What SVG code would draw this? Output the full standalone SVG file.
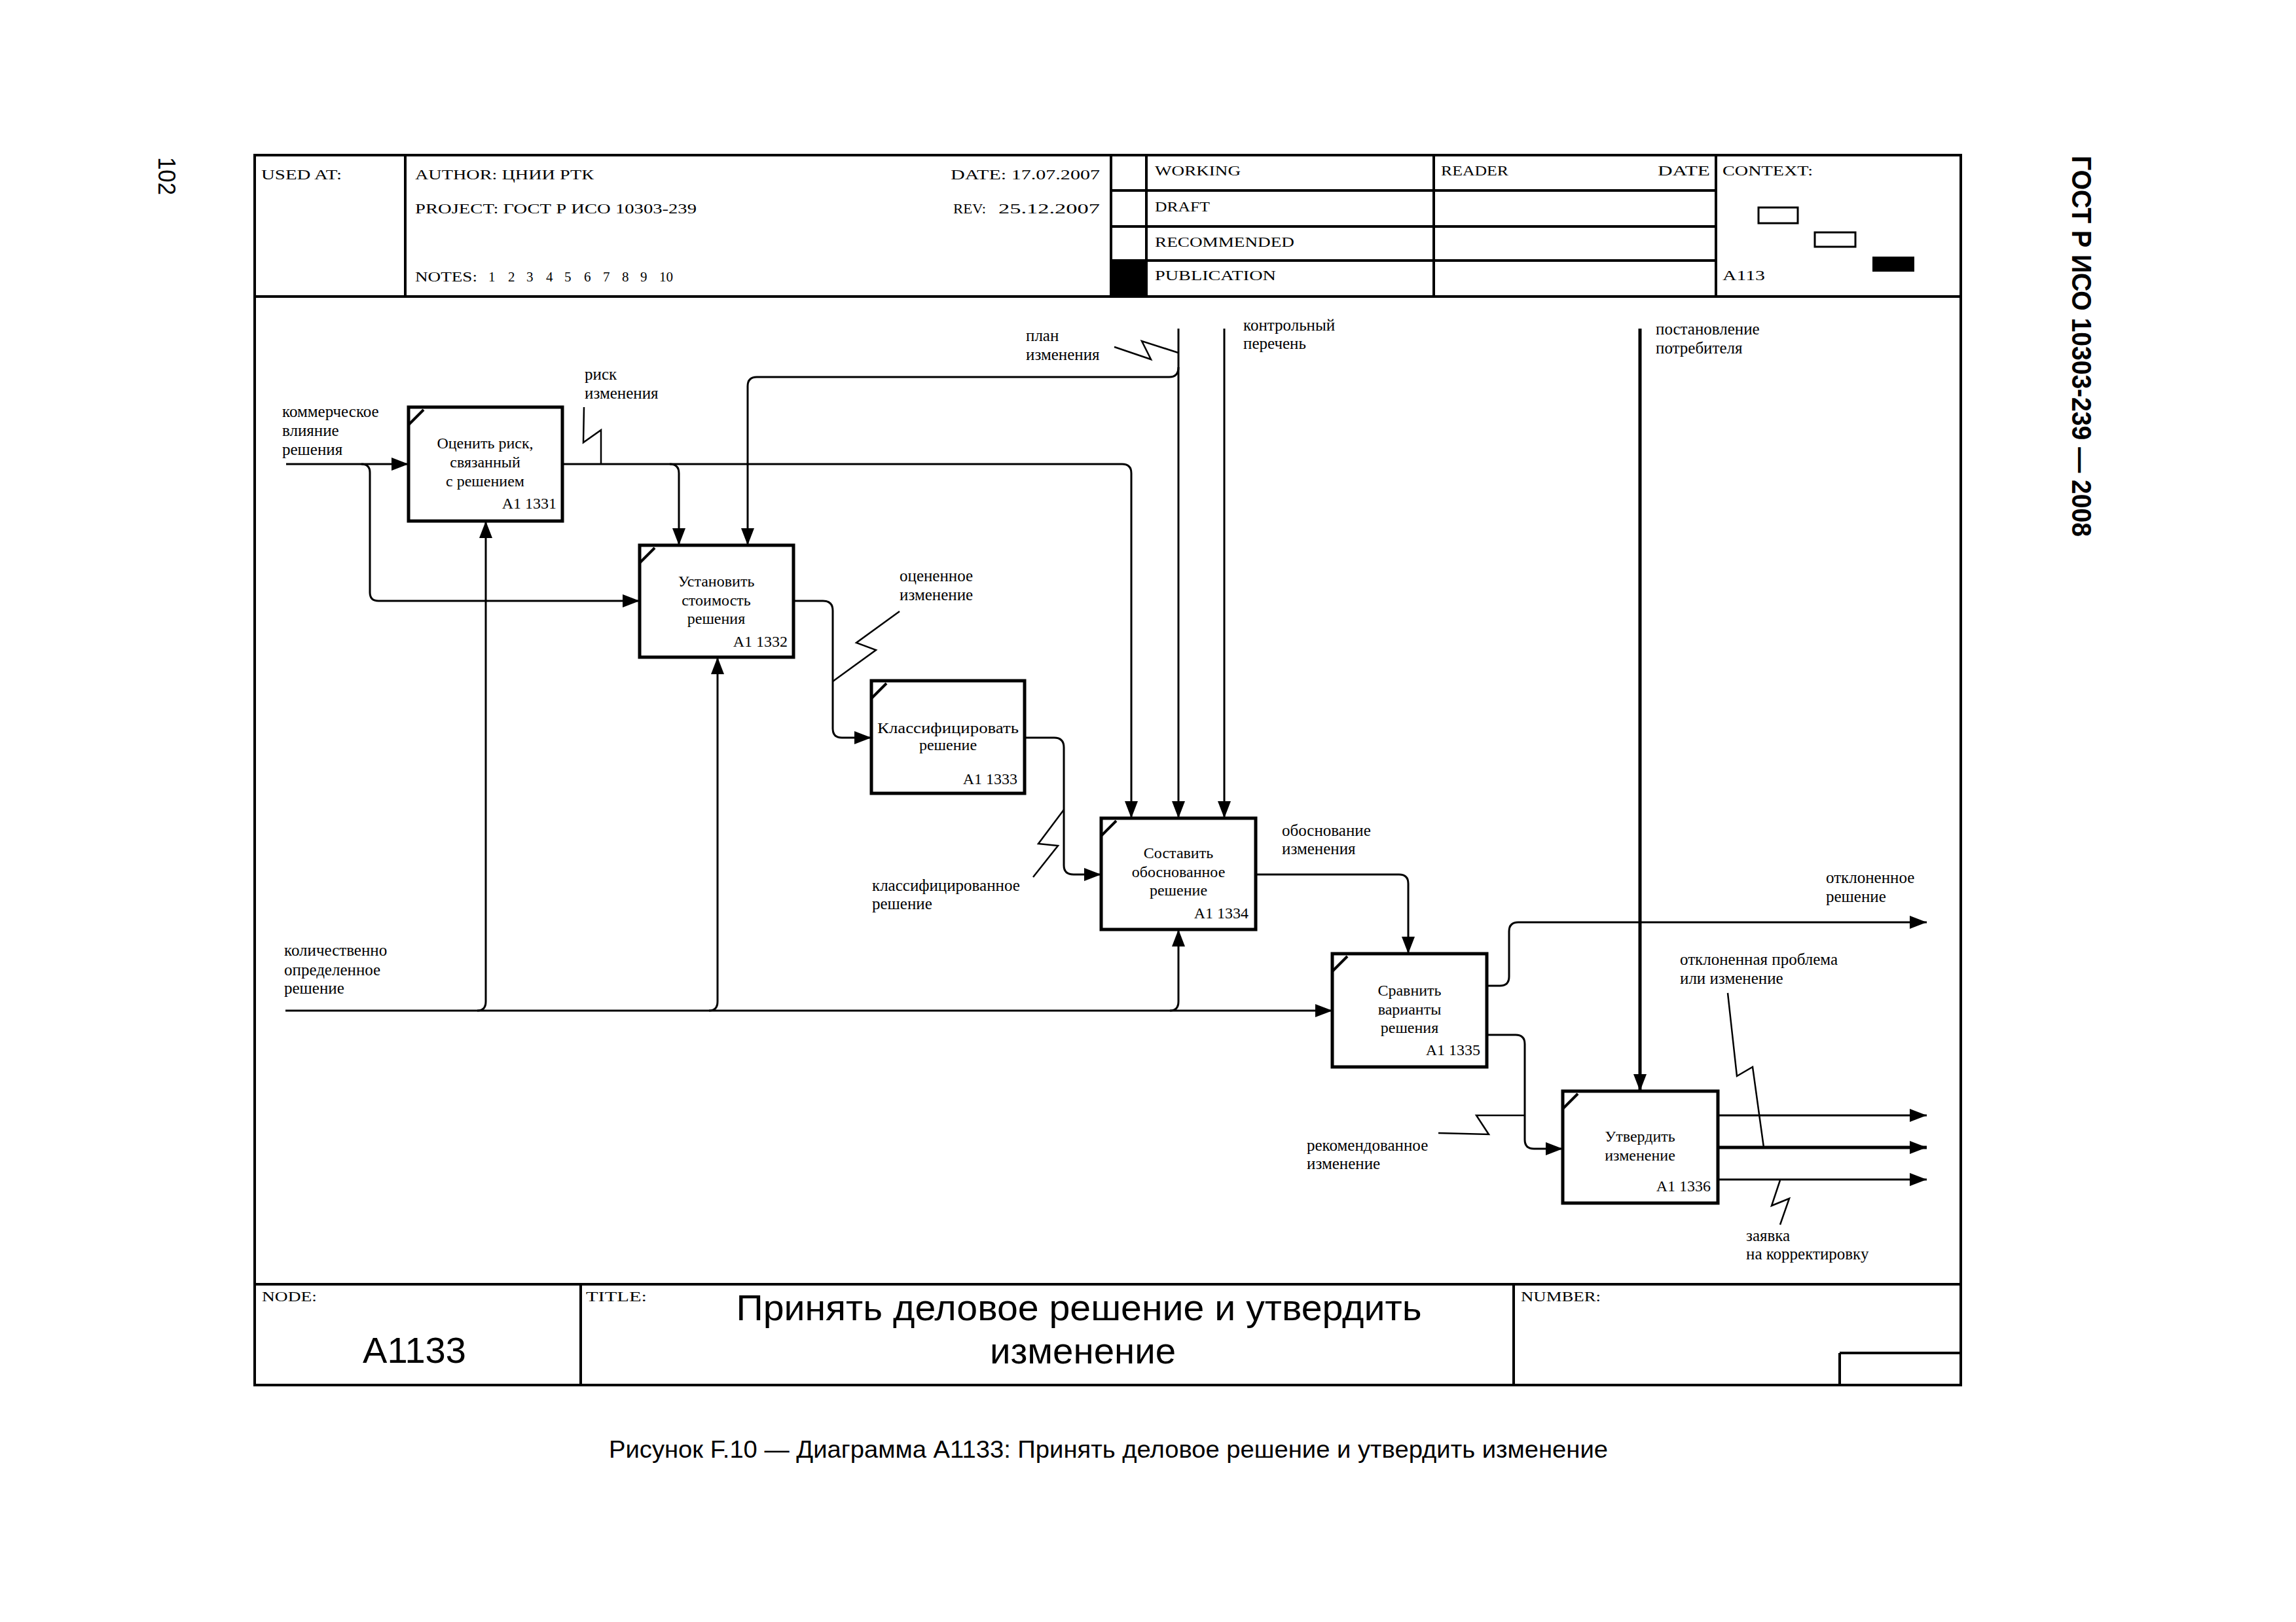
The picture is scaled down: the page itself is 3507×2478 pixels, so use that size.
<svg xmlns="http://www.w3.org/2000/svg" width="3507" height="2478" viewBox="0 0 3507 2478">
<style>
.frame{fill:none;stroke:#000;stroke-width:4}
.box{fill:#fff;stroke:#000;stroke-width:5}
.tick{stroke:#000;stroke-width:4;fill:none}
.conn{fill:none;stroke:#000;stroke-width:3}
.thick{fill:none;stroke:#000;stroke-width:5}
.sq{fill:none;stroke:#000;stroke-width:2.5}
.hdr{font-family:"Liberation Serif",serif;font-size:21px;fill:#000}
.lbl{font-family:"Liberation Serif",serif;font-size:25px;fill:#000}
.btx{font-family:"Liberation Serif",serif;font-size:24px;fill:#000;text-anchor:middle}
.bid{font-family:"Liberation Serif",serif;font-size:24px;fill:#000;text-anchor:end}
.sans{font-family:"Liberation Sans",Arial,sans-serif;fill:#000}
</style>
<defs>
<marker id="arr" viewBox="0 0 26 20" refX="26" refY="10" markerWidth="26" markerHeight="20" markerUnits="userSpaceOnUse" orient="auto">
<path d="M0,0 L26,10 L0,20 z" fill="#000"/>
</marker>
</defs>
<rect width="3507" height="2478" fill="#fff"/>

<!-- page texts -->
<text class="sans" font-size="36" transform="translate(242,240) rotate(90)" textLength="58" lengthAdjust="spacingAndGlyphs">102</text>
<text class="sans" font-size="42" font-weight="bold" transform="translate(3165,238) rotate(90)" textLength="582" lengthAdjust="spacingAndGlyphs">ГОСТ Р ИСО 10303-239 — 2008</text>

<!-- frame -->
<g id="frame">
<rect class="frame" x="389" y="237" width="2606" height="1879"/>
<line class="frame" x1="389" y1="453" x2="2995" y2="453"/>
<line class="frame" x1="389" y1="1962" x2="2995" y2="1962" stroke-width="6"/>
<line class="frame" x1="619" y1="237" x2="619" y2="453"/>
<line class="frame" x1="1697" y1="237" x2="1697" y2="453"/>
<line class="frame" x1="1751" y1="237" x2="1751" y2="453"/>
<line class="frame" x1="2190" y1="237" x2="2190" y2="453"/>
<line class="frame" x1="2621" y1="237" x2="2621" y2="453"/>
<line class="frame" x1="1697" y1="291" x2="2621" y2="291"/>
<line class="frame" x1="1697" y1="346" x2="2621" y2="346"/>
<line class="frame" x1="1697" y1="398" x2="2621" y2="398"/>
<rect x="1697" y="398" width="54" height="55" fill="#000"/>
<rect x="2686" y="317" width="60" height="24" fill="#fff" stroke="#000" stroke-width="3"/>
<rect x="2772" y="355" width="62" height="22" fill="#fff" stroke="#000" stroke-width="3"/>
<rect x="2860" y="392" width="64" height="23" fill="#000"/>
<line class="frame" x1="887" y1="1962" x2="887" y2="2116" stroke-width="3"/>
<line class="frame" x1="2312" y1="1962" x2="2312" y2="2116" stroke-width="3"/>
<line class="frame" x1="2810" y1="2067" x2="2995" y2="2067" stroke-width="5"/>
<line class="frame" x1="2810" y1="2067" x2="2810" y2="2116" stroke-width="2"/>
</g>

<g id="header-text">
<text class="hdr" x="399" y="274" textLength="123" lengthAdjust="spacingAndGlyphs">USED AT:</text>
<text class="hdr" x="634" y="274" textLength="273" lengthAdjust="spacingAndGlyphs">AUTHOR:  ЦНИИ РТК</text>
<text class="hdr" x="1452" y="274" textLength="228" lengthAdjust="spacingAndGlyphs">DATE: 17.07.2007</text>
<text class="hdr" x="634" y="326" textLength="430" lengthAdjust="spacingAndGlyphs">PROJECT:  ГОСТ Р ИСО 10303-239</text>
<text class="hdr" x="1456" y="326" textLength="50" lengthAdjust="spacingAndGlyphs">REV:</text>
<text class="hdr" x="1525" y="326" textLength="155" lengthAdjust="spacingAndGlyphs">25.12.2007</text>
<text class="hdr" y="430"><tspan x="634" textLength="95" lengthAdjust="spacingAndGlyphs">NOTES:</tspan><tspan x="746">1</tspan><tspan x="776">2</tspan><tspan x="804">3</tspan><tspan x="834">4</tspan><tspan x="862">5</tspan><tspan x="892">6</tspan><tspan x="921">7</tspan><tspan x="950">8</tspan><tspan x="978">9</tspan><tspan x="1007">10</tspan></text>
<text class="hdr" x="1764" y="268" textLength="131" lengthAdjust="spacingAndGlyphs">WORKING</text>
<text class="hdr" x="1764" y="323" textLength="84" lengthAdjust="spacingAndGlyphs">DRAFT</text>
<text class="hdr" x="1764" y="377" textLength="213" lengthAdjust="spacingAndGlyphs">RECOMMENDED</text>
<text class="hdr" x="1764" y="428" textLength="185" lengthAdjust="spacingAndGlyphs">PUBLICATION</text>
<text class="hdr" x="2201" y="268" textLength="103" lengthAdjust="spacingAndGlyphs">READER</text>
<text class="hdr" x="2532" y="268" textLength="80" lengthAdjust="spacingAndGlyphs">DATE</text>
<text class="hdr" x="2631" y="268" textLength="138" lengthAdjust="spacingAndGlyphs">CONTEXT:</text>
<text class="hdr" x="2631" y="428" textLength="65" lengthAdjust="spacingAndGlyphs">A113</text>
</g>

<g id="footer-text">
<text class="hdr" x="400" y="1988" textLength="84" lengthAdjust="spacingAndGlyphs">NODE:</text>
<text class="hdr" x="895" y="1988" textLength="93" lengthAdjust="spacingAndGlyphs">TITLE:</text>
<text class="hdr" x="2323" y="1988" textLength="122" lengthAdjust="spacingAndGlyphs">NUMBER:</text>
<text class="sans" font-size="56" x="633" y="2082" text-anchor="middle">A1133</text>
<text class="sans" font-size="56" x="1648" y="2017" text-anchor="middle" textLength="1047" lengthAdjust="spacingAndGlyphs">Принять деловое решение  и утвердить</text>
<text class="sans" font-size="56" x="1654" y="2083" text-anchor="middle" textLength="284" lengthAdjust="spacingAndGlyphs">изменение</text>
<text class="sans" font-size="37" x="1693" y="2227" text-anchor="middle" textLength="1526" lengthAdjust="spacingAndGlyphs">Рисунок F.10 — Диаграмма A1133: Принять деловое решение и утвердить изменение</text>
</g>

<g id="connectors">
<path class="conn" d="M437,709 H624" marker-end="url(#arr)"/>
<path class="conn" d="M552,709 Q565,709 565,722 V905 Q565,918 578,918 H977" marker-end="url(#arr)"/>
<path class="conn" d="M859,709 H1714 Q1728,709 1728,723 V1250" marker-end="url(#arr)"/>
<path class="conn" d="M1023,709 Q1037,709 1037,723 V833" marker-end="url(#arr)"/>
<path class="sq" d="M918,709 V657 L891,676 L892,622"/>
<path class="conn" d="M1800,502 V1250" marker-end="url(#arr)"/>
<path class="conn" d="M1800,561 Q1800,576 1786,576 H1156 Q1142,576 1142,590 V833" marker-end="url(#arr)"/>
<path class="sq" d="M1702,530 L1758,549 L1744,521 L1800,539"/>
<path class="conn" d="M1870,502 V1250" marker-end="url(#arr)"/>
<path class="conn" d="M1212,918 H1257 Q1272,918 1272,933 V1113 Q1272,1127 1286,1127 H1331" marker-end="url(#arr)"/>
<path class="sq" d="M1374,934 L1308,982 L1338,993 L1272,1041"/>
<path class="conn" d="M1565,1127 H1610 Q1625,1127 1625,1142 V1322 Q1625,1336 1640,1336 H1682" marker-end="url(#arr)"/>
<path class="sq" d="M1578,1340 L1616,1292 L1586,1289 L1625,1237"/>
<path class="conn" d="M1918,1336 H2137 Q2151,1336 2151,1350 V1457" marker-end="url(#arr)"/>
<path class="conn" d="M436,1544 H2035" marker-end="url(#arr)"/>
<path class="conn" d="M729,1544 Q742,1544 742,1530 V796" marker-end="url(#arr)"/>
<path class="conn" d="M1083,1544 Q1096,1544 1096,1530 V1004" marker-end="url(#arr)"/>
<path class="conn" d="M1787,1544 Q1800,1544 1800,1530 V1420" marker-end="url(#arr)"/>
<path class="conn" d="M2271,1506 H2291 Q2305,1506 2305,1492 V1423 Q2305,1409 2319,1409 H2943" marker-end="url(#arr)"/>
<path class="conn" d="M2271,1581 H2315 Q2329,1581 2329,1595 V1741 Q2329,1755 2343,1755 H2387" marker-end="url(#arr)"/>
<path class="sq" d="M2197,1731 L2274,1733 L2255,1704 L2329,1704"/>
<path class="thick" d="M2505,502 V1667" marker-end="url(#arr)"/>
<path class="conn" d="M2624,1704 H2943" marker-end="url(#arr)"/>
<path class="thick" d="M2624,1753 H2943" marker-end="url(#arr)"/>
<path class="conn" d="M2624,1802 H2943" marker-end="url(#arr)"/>
<path class="sq" d="M2639,1517 L2653,1644 L2677,1630 L2694,1753"/>
<path class="sq" d="M2719,1871 L2733,1831 L2706,1842 L2719,1803"/>
</g>

<g id="labels">
<text class="lbl" x="431" y="637">коммерческое</text>
<text class="lbl" x="431" y="666">влияние</text>
<text class="lbl" x="431" y="695">решения</text>
<text class="lbl" x="893" y="580">риск</text>
<text class="lbl" x="893" y="609">изменения</text>
<text class="lbl" x="1567" y="521">план</text>
<text class="lbl" x="1567" y="550">изменения</text>
<text class="lbl" x="1899" y="505">контрольный</text>
<text class="lbl" x="1899" y="533">перечень</text>
<text class="lbl" x="2529" y="511">постановление</text>
<text class="lbl" x="2529" y="540">потребителя</text>
<text class="lbl" x="1374" y="888">оцененное</text>
<text class="lbl" x="1374" y="917">изменение</text>
<text class="lbl" x="1332" y="1361">классифицированное</text>
<text class="lbl" x="1332" y="1389">решение</text>
<text class="lbl" x="1958" y="1277">обоснование</text>
<text class="lbl" x="1958" y="1305">изменения</text>
<text class="lbl" x="434" y="1460">количественно</text>
<text class="lbl" x="434" y="1490">определенное</text>
<text class="lbl" x="434" y="1518">решение</text>
<text class="lbl" x="2789" y="1349">отклоненное</text>
<text class="lbl" x="2789" y="1378">решение</text>
<text class="lbl" x="2566" y="1474">отклоненная проблема</text>
<text class="lbl" x="2566" y="1503">или изменение</text>
<text class="lbl" x="1996" y="1758">рекомендованное</text>
<text class="lbl" x="1996" y="1786">изменение</text>
<text class="lbl" x="2667" y="1896">заявка</text>
<text class="lbl" x="2667" y="1924">на корректировку</text>
</g>

<g id="A1331">
<rect class="box" x="624" y="622" width="235" height="174"/>
<path class="tick" d="M624,649 L647,626"/>
<text class="btx" x="741" y="685">Оценить риск,</text>
<text class="btx" x="741" y="714">связанный</text>
<text class="btx" x="741" y="743">с решением</text>
<text class="bid" x="850" y="777">A1 1331</text>
</g>
<g id="A1332">
<rect class="box" x="977" y="833" width="235" height="171"/>
<path class="tick" d="M977,860 L1000,837"/>
<text class="btx" x="1094" y="896">Установить</text>
<text class="btx" x="1094" y="925">стоимость</text>
<text class="btx" x="1094" y="953">решения</text>
<text class="bid" x="1203" y="988">A1 1332</text>
</g>
<g id="A1333">
<rect class="box" x="1331" y="1040" width="234" height="172"/>
<path class="tick" d="M1331,1067 L1354,1044"/>
<text class="btx" x="1448" y="1120" textLength="216" lengthAdjust="spacingAndGlyphs">Классифицировать</text>
<text class="btx" x="1448" y="1146">решение</text>
<text class="bid" x="1554" y="1198">A1 1333</text>
</g>
<g id="A1334">
<rect class="box" x="1682" y="1250" width="236" height="170"/>
<path class="tick" d="M1682,1277 L1705,1254"/>
<text class="btx" x="1800" y="1311">Составить</text>
<text class="btx" x="1800" y="1340">обоснованное</text>
<text class="btx" x="1800" y="1368">решение</text>
<text class="bid" x="1907" y="1403">A1 1334</text>
</g>
<g id="A1335">
<rect class="box" x="2035" y="1457" width="236" height="173"/>
<path class="tick" d="M2035,1484 L2058,1461"/>
<text class="btx" x="2153" y="1521">Сравнить</text>
<text class="btx" x="2153" y="1550">варианты</text>
<text class="btx" x="2153" y="1578">решения</text>
<text class="bid" x="2261" y="1612">A1 1335</text>
</g>
<g id="A1336">
<rect class="box" x="2387" y="1667" width="237" height="171"/>
<path class="tick" d="M2387,1694 L2410,1671"/>
<text class="btx" x="2505" y="1744">Утвердить</text>
<text class="btx" x="2505" y="1773">изменение</text>
<text class="bid" x="2613" y="1820">A1 1336</text>
</g>
</svg>
